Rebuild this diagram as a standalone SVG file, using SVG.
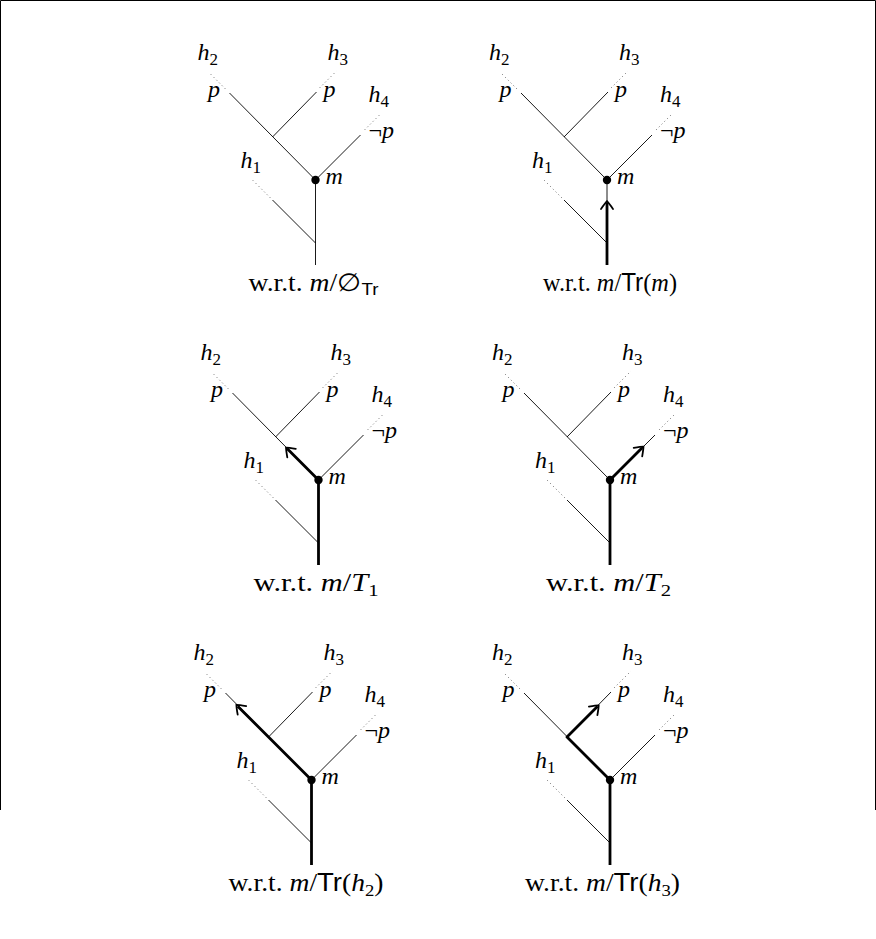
<svg xmlns="http://www.w3.org/2000/svg" width="876" height="939" viewBox="0 0 876 939">
<defs>
<style>
.thin{stroke:#000;stroke-width:0.9;fill:none}
.dot{stroke:#555;stroke-width:1;fill:none;stroke-dasharray:0.9 3.1}
.thick{stroke:#000;stroke-width:2.8;fill:none;stroke-linejoin:round}
.arr{marker-end:url(#head)}
text{font-family:"Liberation Serif","Times New Roman",serif;font-size:24px;fill:#000}
.cap{font-size:25px}
.it{font-style:italic}
.sf{font-family:"Liberation Sans",Arial,sans-serif;font-style:normal}
.sub{font-size:17px}
.frame{stroke:#000;stroke-width:1;fill:none}
</style>
<marker id="head" markerUnits="userSpaceOnUse" viewBox="-9 -8 13 16" markerWidth="13" markerHeight="16" refX="0" refY="0" orient="auto">
<path d="M-6,-6 Q0,-1.8 1.8,0 Q0,1.8 -6,6" fill="none" stroke="#000" stroke-width="1.8" stroke-linecap="round"/>
</marker>
</defs>
<rect width="876" height="939" fill="#fff"/>
<path class="frame" d="M0.5,810 V0.5 H875.5 V810"/>

<!-- Panel 1 -->
<g id="panel1" transform="translate(315.5,180)">
<g id="p1-connectors">
<path class="thin" d="M0,85 V0 L-86,-87 M-43,-43 L1,-88 M0,0 L45,-45 M0,63 L-43,20"/>
<path class="dot" d="M-90,-91 L-106,-107 M4,-92 L21,-109 M49,-50 L65,-66 M-45,18 L-64,-1"/>
</g>
<g id="p1-nodes">
<circle cx="0" cy="0" r="4.2"/>
<text x="10" y="4" class="it">m</text>
<text x="-118" y="-120" class="it">h<tspan class="sub" dy="5" font-style="normal">2</tspan></text>
<text x="-107.5" y="-83" class="it">p</text>
<text x="12" y="-120" class="it">h<tspan class="sub" dy="5" font-style="normal">3</tspan></text>
<text x="8" y="-83" class="it">p</text>
<text x="53" y="-78" class="it">h<tspan class="sub" dy="5" font-style="normal">4</tspan></text>
<text x="53" y="-42">¬<tspan class="it">p</tspan></text>
<text x="-75" y="-12" class="it">h<tspan class="sub" dy="5" font-style="normal">1</tspan></text>
<text class="cap" x="-67" y="111" textLength="130" lengthAdjust="spacingAndGlyphs">w.r.t. <tspan class="it">m</tspan>/∅<tspan class="sf sub" dy="4">Tr</tspan></text>
</g>
</g>

<!-- Panel 2 -->
<g id="panel2" transform="translate(607,180)">
<g id="p2-connectors">
<path class="thin" d="M0,85 V0 L-86,-87 M-43,-43 L1,-88 M0,0 L45,-45 M0,63 L-43,20"/>
<path class="dot" d="M-90,-91 L-106,-107 M4,-92 L21,-109 M49,-50 L65,-66 M-45,18 L-64,-1"/>
<path class="thick arr" d="M0,85 V23"/>
</g>
<g id="p2-nodes">
<circle cx="0" cy="0" r="4.2"/>
<text x="10" y="4" class="it">m</text>
<text x="-118" y="-120" class="it">h<tspan class="sub" dy="5" font-style="normal">2</tspan></text>
<text x="-107.5" y="-83" class="it">p</text>
<text x="12" y="-120" class="it">h<tspan class="sub" dy="5" font-style="normal">3</tspan></text>
<text x="8" y="-83" class="it">p</text>
<text x="53" y="-78" class="it">h<tspan class="sub" dy="5" font-style="normal">4</tspan></text>
<text x="53" y="-42">¬<tspan class="it">p</tspan></text>
<text x="-75" y="-12" class="it">h<tspan class="sub" dy="5" font-style="normal">1</tspan></text>
<text class="cap" x="-64" y="111" textLength="134" lengthAdjust="spacingAndGlyphs">w.r.t. <tspan class="it">m</tspan>/<tspan class="sf">Tr</tspan>(<tspan class="it">m</tspan>)</text>
</g>
</g>

<!-- Panel 3 -->
<g id="panel3" transform="translate(318.5,480)">
<g id="p3-connectors">
<path class="thin" d="M0,85 V0 L-86,-87 M-43,-43 L1,-88 M0,0 L45,-45 M0,63 L-43,20"/>
<path class="dot" d="M-90,-91 L-106,-107 M4,-92 L21,-109 M49,-50 L65,-66 M-45,18 L-64,-1"/>
<path class="thick arr" d="M0,85 V0 L-31.2,-31.2"/>
</g>
<g id="p3-nodes">
<circle cx="0" cy="0" r="4.2"/>
<text x="10" y="4" class="it">m</text>
<text x="-118" y="-120" class="it">h<tspan class="sub" dy="5" font-style="normal">2</tspan></text>
<text x="-107.5" y="-83" class="it">p</text>
<text x="12" y="-120" class="it">h<tspan class="sub" dy="5" font-style="normal">3</tspan></text>
<text x="8" y="-83" class="it">p</text>
<text x="53" y="-78" class="it">h<tspan class="sub" dy="5" font-style="normal">4</tspan></text>
<text x="53" y="-42">¬<tspan class="it">p</tspan></text>
<text x="-75" y="-12" class="it">h<tspan class="sub" dy="5" font-style="normal">1</tspan></text>
<text class="cap" x="-65" y="111" textLength="125" lengthAdjust="spacingAndGlyphs">w.r.t. <tspan class="it">m</tspan>/<tspan class="it">T</tspan><tspan class="sub" dy="5">1</tspan></text>
</g>
</g>

<!-- Panel 4 -->
<g id="panel4" transform="translate(610,480)">
<g id="p4-connectors">
<path class="thin" d="M0,85 V0 L-86,-87 M-43,-43 L1,-88 M0,0 L45,-45 M0,63 L-43,20"/>
<path class="dot" d="M-90,-91 L-106,-107 M4,-92 L21,-109 M49,-50 L65,-66 M-45,18 L-64,-1"/>
<path class="thick arr" d="M0,85 V0 L32.2,-32.2"/>
</g>
<g id="p4-nodes">
<circle cx="0" cy="0" r="4.2"/>
<text x="10" y="4" class="it">m</text>
<text x="-118" y="-120" class="it">h<tspan class="sub" dy="5" font-style="normal">2</tspan></text>
<text x="-107.5" y="-83" class="it">p</text>
<text x="12" y="-120" class="it">h<tspan class="sub" dy="5" font-style="normal">3</tspan></text>
<text x="8" y="-83" class="it">p</text>
<text x="53" y="-78" class="it">h<tspan class="sub" dy="5" font-style="normal">4</tspan></text>
<text x="53" y="-42">¬<tspan class="it">p</tspan></text>
<text x="-75" y="-12" class="it">h<tspan class="sub" dy="5" font-style="normal">1</tspan></text>
<text class="cap" x="-64" y="111" textLength="125" lengthAdjust="spacingAndGlyphs">w.r.t. <tspan class="it">m</tspan>/<tspan class="it">T</tspan><tspan class="sub" dy="5">2</tspan></text>
</g>
</g>

<!-- Panel 5 -->
<g id="panel5" transform="translate(311.5,780)">
<g id="p5-connectors">
<path class="thin" d="M0,85 V0 L-86,-87 M-43,-43 L1,-88 M0,0 L45,-45 M0,63 L-43,20"/>
<path class="dot" d="M-90,-91 L-106,-107 M4,-92 L21,-109 M49,-50 L65,-66 M-45,18 L-64,-1"/>
<path class="thick arr" d="M0,85 V0 L-73.8,-73.8"/>
</g>
<g id="p5-nodes">
<circle cx="0" cy="0" r="4.2"/>
<text x="10" y="4" class="it">m</text>
<text x="-118" y="-120" class="it">h<tspan class="sub" dy="5" font-style="normal">2</tspan></text>
<text x="-107.5" y="-83" class="it">p</text>
<text x="12" y="-120" class="it">h<tspan class="sub" dy="5" font-style="normal">3</tspan></text>
<text x="8" y="-83" class="it">p</text>
<text x="53" y="-78" class="it">h<tspan class="sub" dy="5" font-style="normal">4</tspan></text>
<text x="53" y="-42">¬<tspan class="it">p</tspan></text>
<text x="-75" y="-12" class="it">h<tspan class="sub" dy="5" font-style="normal">1</tspan></text>
<text class="cap" x="-83" y="111" textLength="155" lengthAdjust="spacingAndGlyphs">w.r.t. <tspan class="it">m</tspan>/<tspan class="sf">Tr</tspan>(<tspan class="it">h</tspan><tspan class="sub" dy="5">2</tspan><tspan dy="-5">)</tspan></text>
</g>
</g>

<!-- Panel 6 -->
<g id="panel6" transform="translate(610,780)">
<g id="p6-connectors">
<path class="thin" d="M0,85 V0 L-86,-87 M-43,-43 L1,-88 M0,0 L45,-45 M0,63 L-43,20"/>
<path class="dot" d="M-90,-91 L-106,-107 M4,-92 L21,-109 M49,-50 L65,-66 M-45,18 L-64,-1"/>
<path class="thick arr" d="M0,85 V0 L-43,-43 L-12.6,-73.4"/>
</g>
<g id="p6-nodes">
<circle cx="0" cy="0" r="4.2"/>
<text x="10" y="4" class="it">m</text>
<text x="-118" y="-120" class="it">h<tspan class="sub" dy="5" font-style="normal">2</tspan></text>
<text x="-107.5" y="-83" class="it">p</text>
<text x="12" y="-120" class="it">h<tspan class="sub" dy="5" font-style="normal">3</tspan></text>
<text x="8" y="-83" class="it">p</text>
<text x="53" y="-78" class="it">h<tspan class="sub" dy="5" font-style="normal">4</tspan></text>
<text x="53" y="-42">¬<tspan class="it">p</tspan></text>
<text x="-75" y="-12" class="it">h<tspan class="sub" dy="5" font-style="normal">1</tspan></text>
<text class="cap" x="-85" y="111" textLength="155" lengthAdjust="spacingAndGlyphs">w.r.t. <tspan class="it">m</tspan>/<tspan class="sf">Tr</tspan>(<tspan class="it">h</tspan><tspan class="sub" dy="5">3</tspan><tspan dy="-5">)</tspan></text>
</g>
</g>
</svg>
